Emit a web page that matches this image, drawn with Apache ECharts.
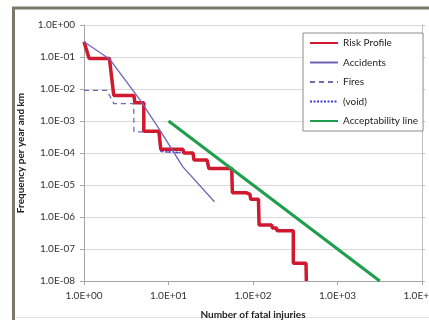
<!DOCTYPE html>
<html>
<head>
<meta charset="utf-8">
<script src="https://cdn.jsdelivr.net/npm/echarts@6/dist/echarts.min.js"></script>
<style>
  html, body { margin: 0; padding: 0; background: #fff; }
  #chart { width: 429px; height: 320px; }
</style>
</head>
<body>
<div id="chart"></div>
<script>
// values: [fatal injuries, frequency]
const riskProfile = [
  [1, 0.3], [1.15, 0.09], [2.0, 0.09], [2.25, 0.0063], [3.9, 0.0063], [4.0, 0.0037],
  [5.1, 0.0037], [5.1, 0.00048], [7.7, 0.00048], [8.1, 0.00013], [14.8, 0.00013],
  [15.2, 0.0001], [19.5, 0.0001], [20, 0.00006], [28.6, 0.00006], [30, 0.000033],
  [56, 0.000033], [57, 0.0000057], [84, 0.0000057], [86, 0.0000051], [92, 0.0000051],
  [94, 0.0000036], [116, 0.0000036], [118, 0.00000056], [166, 0.00000056], [170, 0.00000045],
  [190, 0.00000045], [193, 0.00000037], [300, 0.00000037], [300, 0.000000036],
  [424, 0.000000036], [428, 0.00000001]
]
const accidents = [
  [1, 0.3], [2.0, 0.087], [4.6, 0.0046], [7.9, 0.00052], [14.8, 0.000037], [35, 0.000003]
]
const fires = [
  [1, 0.0091], [1.87, 0.0091], [2.25, 0.0035], [3.87, 0.0035], [3.9, 0.00046],
  [7.5, 0.00046], [8.1, 0.00011], [15, 0.0001]
]
const voidSeries = [
  [7.6, 0.00046], [8.1, 0.00011], [15, 0.000105]
]
const acceptability = [[10, 0.001], [3162, 0.00000001]]

const xTickLabels = ['1.0E+00', '1.0E+01', '1.0E+02', '1.0E+03', '1.0E+04']
const yTickLabels = ['1.0E-08', '1.0E-07', '1.0E-06', '1.0E-05', '1.0E-04', '1.0E-03', '1.0E-02', '1.0E-01', '1.0E+00']

const font = 'Lato, "Open Sans", sans-serif'
const chart = echarts.init(document.getElementById('chart'))

chart.setOption({
  backgroundColor: '#fff',
  animation: false,
  textStyle: { fontFamily: font },
  graphic: [
    { type: 'line', shape: { x1: 12, y1: 8, x2: 429, y2: 8 }, style: { stroke: '#7b7a6a', lineWidth: 3 } },
    { type: 'line', shape: { x1: 13.5, y1: 7, x2: 13.5, y2: 320 }, style: { stroke: '#7b7a6a', lineWidth: 3 } },
    { type: 'line', shape: { x1: 15, y1: 317.5, x2: 429, y2: 317.5 }, style: { stroke: '#e2e2e2', lineWidth: 1 } }
  ],
  grid: { left: 84, right: 7, top: 25, bottom: 39, outerBoundsMode: 'none', containLabel: false },
  legend: {
    left: 303, top: 33,
    orient: 'vertical',
    backgroundColor: '#fff',
    borderColor: '#8c8c8c', borderWidth: 1,
    padding: [5, 5, 5, 6],
    itemWidth: 28, itemHeight: 10, itemGap: 9.5,
    itemStyle: { opacity: 0 },
    textStyle: { fontSize: 10, color: '#222', fontFamily: font },
    data: ['Risk Profile', 'Accidents', 'Fires', '(void)', 'Acceptability line']
  },
  xAxis: {
    type: 'log', logBase: 10, min: 1, max: 10000,
    name: 'Number of fatal injuries', nameLocation: 'middle', nameGap: 29,
    nameTextStyle: { fontSize: 10, fontWeight: 'bold', color: '#222', fontFamily: font },
    axisLine: { lineStyle: { color: '#a6a6a6' } },
    axisTick: { length: 4, lineStyle: { color: '#a6a6a6' } },
    minorTick: { show: false },
    splitLine: { show: false },
    axisLabel: {
      fontSize: 10, color: '#333', margin: 10,
      formatter: v => xTickLabels[Math.round(Math.log10(v))]
    }
  },
  yAxis: [{
    type: 'log', logBase: 10, min: 1e-8, max: 1,
    name: 'Frequency per year and km', nameLocation: 'middle', nameGap: 58,
    nameTextStyle: { fontSize: 10, fontWeight: 'bold', color: '#222', fontFamily: font },
    axisLine: { show: true, lineStyle: { color: '#a6a6a6' } },
    axisTick: { show: true, length: 4, lineStyle: { color: '#a6a6a6' } },
    splitLine: { lineStyle: { color: '#d9d9d9' } },
    axisLabel: {
      fontSize: 10, color: '#333', margin: 9,
      formatter: v => yTickLabels[Math.round(Math.log10(v)) + 8]
    }
  }, {
    type: 'log', logBase: 10, min: 1e-8, max: 1, position: 'right',
    axisLine: { show: true, lineStyle: { color: '#bfbfbf' } },
    axisTick: { show: true, length: 3, lineStyle: { color: '#bfbfbf' } },
    axisLabel: { show: false },
    splitLine: { show: false }
  }],
  series: [
    {
      name: 'Risk Profile', type: 'line', data: riskProfile, symbol: 'none',
      color: '#d0182e', lineStyle: { width: 3.5, color: '#d0182e' }, z: 5
    },
    {
      name: 'Accidents', type: 'line', data: accidents, symbol: 'none',
      color: '#7262b6', lineStyle: { width: 1.3, color: '#7262b6' }, z: 6
    },
    {
      name: 'Fires', type: 'line', data: fires, symbol: 'none',
      color: '#6c6cae', lineStyle: { width: 1.3, color: '#6c6cae', type: [5, 4] }, z: 4
    },
    {
      name: '(void)', type: 'line', data: voidSeries, symbol: 'none',
      color: '#3c3cd0', lineStyle: { width: 1.2, color: '#3c3cd0', type: [2, 1.5] }, z: 4
    },
    {
      name: 'Acceptability line', type: 'line', data: acceptability, symbol: 'none',
      color: '#1f9e4c', lineStyle: { width: 3, color: '#1f9e4c' }, z: 5
    }
  ]
})
</script>
</body>
</html>
